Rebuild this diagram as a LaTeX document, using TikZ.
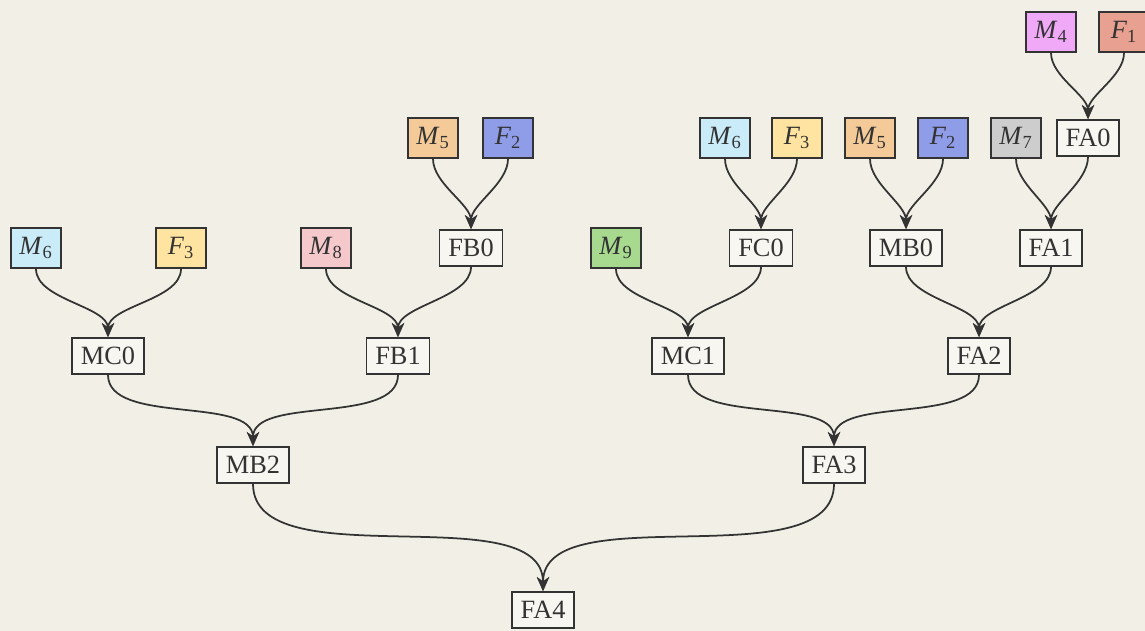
\documentclass[tikz,border=0pt]{standalone}
\usepackage{amsmath}
\usepackage{fontspec}
\setmainfont{Liberation Serif}
\usepackage{tikz}
\usetikzlibrary{arrows.meta,positioning}
\definecolor{bgcol}{HTML}{F2F0E6}
\definecolor{inkcol}{HTML}{333333}
\definecolor{mblue}{HTML}{C9ECF8}
\definecolor{fyellow}{HTML}{FEE4A0}
\definecolor{morange}{HTML}{F4CB98}
\definecolor{fblue}{HTML}{8F9DE8}
\definecolor{mpink}{HTML}{F5C9CC}
\definecolor{mgreen}{HTML}{A7D98F}
\definecolor{mmagenta}{HTML}{F0A9F6}
\definecolor{fsalmon}{HTML}{E8A090}
\definecolor{mgrey}{HTML}{CDCDCD}
\newcommand{\lbl}[2]{\textit{#1}$_{\text{#2}}$}

\begin{document}
\begin{tikzpicture}[x=0.02cm,y=0.02cm,font=\fontsize{15}{18}\selectfont,text=inkcol]

\tikzset{leafnode/.style={draw=inkcol,line width=1pt,minimum width=1cm,minimum height=0.8cm,inner sep=0pt},
mixnode/.style={draw=inkcol,line width=1pt,fill=bgcol!60!white,minimum height=0.72cm,inner xsep=5pt,inner ysep=0pt},
edge/.style={draw=inkcol,line width=1pt,looseness=0.8,-{Stealth[length=8pt,width=7pt,inset=2.5pt]}}}

\fill[bgcol] (0,0) rectangle (1145,631);
\useasboundingbox (0,0) rectangle (1145,631);

% Top leaves
\node[leafnode,fill=mmagenta] (m4) at (1051,599) {\lbl{M}{4}};
\node[leafnode,fill=fsalmon] (f1) at (1124,599) {\lbl{F}{1}};

% Second row
\node[leafnode,fill=morange] (m5a) at (433,493) {\lbl{M}{5}};
\node[leafnode,fill=fblue] (f2a) at (508,493) {\lbl{F}{2}};
\node[leafnode,fill=mblue] (m6b) at (725,493) {\lbl{M}{6}};
\node[leafnode,fill=fyellow] (f3b) at (797,493) {\lbl{F}{3}};
\node[leafnode,fill=morange] (m5b) at (870,493) {\lbl{M}{5}};
\node[leafnode,fill=fblue] (f2b) at (943,493) {\lbl{F}{2}};
\node[leafnode,fill=mgrey] (m7) at (1016,493) {\lbl{M}{7}};
\node[mixnode] (fa0) at (1088,493) {FA0};

% Third row
\node[leafnode,fill=mblue] (m6a) at (36,383) {\lbl{M}{6}};
\node[leafnode,fill=fyellow] (f3a) at (181,383) {\lbl{F}{3}};
\node[leafnode,fill=mpink] (m8) at (326,383) {\lbl{M}{8}};
\node[mixnode] (fb0) at (471,383) {FB0};
\node[leafnode,fill=mgreen] (m9) at (616,383) {\lbl{M}{9}};
\node[mixnode] (fc0) at (761,383) {FC0};
\node[mixnode] (mb0) at (906,383) {MB0};
\node[mixnode] (fa1) at (1051,383) {FA1};

% Lower mixes
\node[mixnode] (mc0) at (108,275) {MC0};
\node[mixnode] (fb1) at (398,275) {FB1};
\node[mixnode] (mc1) at (688,275) {MC1};
\node[mixnode] (fa2) at (979,275) {FA2};
\node[mixnode] (mb2) at (253,166) {MB2};
\node[mixnode] (fa3) at (834,166) {FA3};
\node[mixnode] (fa4) at (543,21) {FA4};

% Edges
\foreach \a/\b in {m4/fa0,f1/fa0,m5a/fb0,f2a/fb0,m6b/fc0,f3b/fc0,m5b/mb0,f2b/mb0,m7/fa1,fa0/fa1,
m6a/mc0,f3a/mc0,m8/fb1,fb0/fb1,m9/mc1,fc0/mc1,mb0/fa2,fa1/fa2,mc0/mb2,fb1/mb2,mc1/fa3,fa2/fa3,mb2/fa4,fa3/fa4}
  \draw[edge] (\a.south) to[out=-90,in=90] (\b.north);

\end{tikzpicture}
\end{document}
